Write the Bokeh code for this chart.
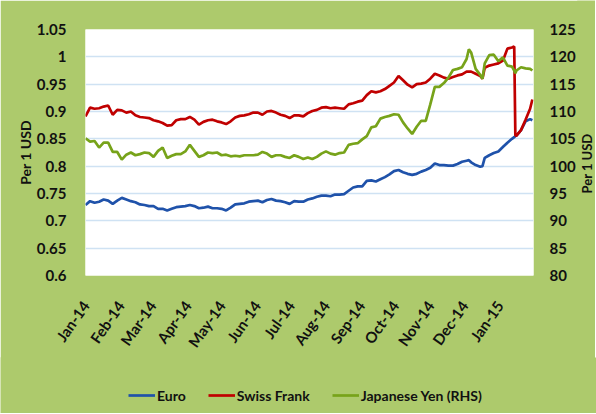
import math
import pandas as pd
from bokeh.plotting import figure
from bokeh.layouts import column, row
from bokeh.models import (Range1d, LinearAxis, FixedTicker, MonthsTicker, DatetimeTickFormatter,
                          CustomJSTickFormatter, Legend, LegendItem, Label)
from bokeh.embed import file_html
from bokeh.resources import INLINE

dates = [
    "2014-01-01", "2014-01-05", "2014-01-09", "2014-01-13", "2014-01-17", "2014-01-21", "2014-01-25", "2014-01-29",
    "2014-02-02", "2014-02-06", "2014-02-10", "2014-02-14", "2014-02-18", "2014-02-22", "2014-02-26",
    "2014-03-02", "2014-03-06", "2014-03-10", "2014-03-14", "2014-03-18", "2014-03-22", "2014-03-26", "2014-03-30",
    "2014-04-03", "2014-04-07", "2014-04-11", "2014-04-15", "2014-04-19", "2014-04-23", "2014-04-27",
    "2014-05-01", "2014-05-05", "2014-05-09", "2014-05-13", "2014-05-17", "2014-05-21", "2014-05-25", "2014-05-29",
    "2014-06-02", "2014-06-06", "2014-06-10", "2014-06-14", "2014-06-18", "2014-06-22", "2014-06-26", "2014-06-30",
    "2014-07-04", "2014-07-08", "2014-07-12", "2014-07-16", "2014-07-20", "2014-07-24", "2014-07-28",
    "2014-08-01", "2014-08-05", "2014-08-09", "2014-08-13", "2014-08-17", "2014-08-21", "2014-08-25", "2014-08-29",
    "2014-09-02", "2014-09-06", "2014-09-10", "2014-09-14", "2014-09-18", "2014-09-22", "2014-09-26", "2014-09-30",
    "2014-10-04", "2014-10-08", "2014-10-12", "2014-10-16", "2014-10-20", "2014-10-24", "2014-10-28",
    "2014-11-01", "2014-11-05", "2014-11-09", "2014-11-13", "2014-11-17", "2014-11-21", "2014-11-25", "2014-11-29",
    "2014-12-03", "2014-12-05", "2014-12-07", "2014-12-11", "2014-12-15", "2014-12-17", "2014-12-19", "2014-12-23",
    "2014-12-27", "2014-12-31",
    "2015-01-04", "2015-01-08", "2015-01-12", "2015-01-14", "2015-01-15", "2015-01-16", "2015-01-20", "2015-01-24",
    "2015-01-28", "2015-01-30",
]

euro = [
    0.729, 0.736, 0.733, 0.735, 0.739, 0.737, 0.731, 0.737,
    0.742, 0.739, 0.736, 0.734, 0.730, 0.729, 0.727,
    0.727, 0.722, 0.722, 0.719, 0.722, 0.725, 0.726, 0.727,
    0.729, 0.727, 0.723, 0.724, 0.726, 0.723, 0.723,
    0.722, 0.719, 0.724, 0.730, 0.731, 0.732, 0.735, 0.736,
    0.737, 0.734, 0.738, 0.740, 0.737, 0.736, 0.734, 0.731,
    0.736, 0.735, 0.735, 0.739, 0.741, 0.744, 0.746,
    0.746, 0.745, 0.748, 0.748, 0.749, 0.755, 0.761, 0.763,
    0.763, 0.773, 0.774, 0.772, 0.776, 0.780, 0.785, 0.791,
    0.793, 0.789, 0.786, 0.784, 0.786, 0.790, 0.793,
    0.797, 0.805, 0.802, 0.802, 0.801, 0.801, 0.804, 0.808,
    0.810, 0.811, 0.807, 0.802, 0.799, 0.800, 0.815, 0.820,
    0.824, 0.827,
    0.835, 0.843, 0.850, 0.853, 0.855, 0.856, 0.866, 0.882,
    0.886, 0.884,
]

swiss = [
    0.891, 0.907, 0.905, 0.906, 0.909, 0.911, 0.894, 0.903,
    0.902, 0.898, 0.900, 0.893, 0.890, 0.889, 0.888,
    0.884, 0.882, 0.879, 0.874, 0.875, 0.884, 0.886, 0.886,
    0.890, 0.885, 0.876, 0.881, 0.884, 0.885, 0.882,
    0.880, 0.877, 0.882, 0.889, 0.892, 0.893, 0.895, 0.898,
    0.898, 0.894, 0.900, 0.901, 0.898, 0.894, 0.892, 0.888,
    0.893, 0.893, 0.891, 0.897, 0.901, 0.903, 0.907,
    0.908, 0.906, 0.907, 0.906, 0.905, 0.913, 0.915, 0.918,
    0.920, 0.930, 0.937, 0.935, 0.937, 0.941, 0.947, 0.953,
    0.965, 0.957, 0.949, 0.944, 0.950, 0.951, 0.953,
    0.960, 0.969, 0.966, 0.962, 0.960, 0.963, 0.966, 0.968,
    0.973, 0.973, 0.973, 0.969, 0.965, 0.960, 0.980, 0.984,
    0.986, 0.988,
    0.993, 1.015, 1.017, 1.019, 0.856, 0.856, 0.866, 0.885,
    0.905, 0.922,
]

yen = [
    105.1, 104.5, 104.6, 103.4, 104.3, 104.3, 102.6, 102.6,
    101.2, 102.1, 102.5, 102.0, 102.2, 102.5, 102.4,
    101.7, 102.8, 103.4, 101.5, 101.9, 102.2, 102.2, 102.7,
    103.9, 102.8, 101.7, 102.0, 102.5, 102.4, 102.5,
    102.0, 102.1, 101.8, 101.9, 101.8, 102.0, 102.0, 102.0,
    102.1, 102.6, 102.3, 101.7, 102.0, 102.0, 101.7, 101.5,
    102.0, 101.7, 101.3, 101.6, 101.3, 101.7, 102.3,
    102.7, 102.3, 102.1, 102.4, 102.5, 103.9, 104.1, 104.2,
    104.9, 105.5, 107.1, 107.3, 108.7, 109.0, 109.2, 109.5,
    109.4, 108.0, 106.9, 105.9, 107.2, 108.3, 108.3,
    111.3, 114.5, 114.5, 115.2, 116.2, 117.6, 117.8, 118.1,
    119.6, 121.4, 120.8, 117.8, 116.7, 116.0, 118.8, 120.3,
    120.4, 119.2,
    119.9, 118.4, 118.2, 117.5, 117.0, 117.5, 118.1, 117.9,
    117.8, 117.5,
]

left_ticks = [0.6, 0.65, 0.7, 0.75, 0.8, 0.85, 0.9, 0.95, 1.0, 1.05]
right_ticks = [80, 85, 90, 95, 100, 105, 110, 115, 120, 125]
series_names = ["Euro", "Swiss Frank", "Japanese Yen (RHS)"]
series_colors = ["#1F52AA", "#C00000", "#77A31A"]
axis_title = "Per 1 USD"

BG = "#ADCA6C"
GRID = "#CFE2F3"
FONT = "Lato"
TXT = "#111111"
LW = 2.7


def strip(fig):
    if hasattr(fig, "frame_align"):
        fig.frame_align = False
    fig.border_fill_color = BG
    fig.background_fill_color = BG
    fig.outline_line_color = None
    fig.xgrid.visible = False
    fig.ygrid.visible = False


x = pd.to_datetime(dates)

p = figure(width=578, height=358, x_axis_type="datetime",
           x_range=Range1d(pd.Timestamp("2014-01-01"), pd.Timestamp("2015-01-31")),
           y_range=Range1d(0.6, 1.05),
           output_backend="svg", toolbar_location=None,
           min_border_left=85, min_border_right=39, min_border_top=29, min_border_bottom=75)
if hasattr(p, "frame_align"):
    p.frame_align = False
p.border_fill_color = BG
p.background_fill_color = "white"
p.outline_line_color = None
p.extra_y_ranges = {"yen": Range1d(80, 125)}

p.line(x, euro, color=series_colors[0], line_width=LW)
p.line(x, swiss, color=series_colors[1], line_width=LW)
p.line(x, yen, color=series_colors[2], line_width=LW, y_range_name="yen")

# axes
xa = p.xaxis[0]
xa.ticker = MonthsTicker(months=list(range(12)))
xa.formatter = DatetimeTickFormatter(months="%b-%y", days="%b-%y")
xa.major_label_orientation = 0.96

ya = p.yaxis[0]
ya.ticker = FixedTicker(ticks=left_ticks)
ya.formatter = CustomJSTickFormatter(code="return String(Number(tick.toFixed(2)));")
ya.axis_label = axis_title

ra = LinearAxis(y_range_name="yen", ticker=FixedTicker(ticks=right_ticks))
p.add_layout(ra, "right")

for ax in [xa, ya, ra]:
    ax.axis_line_color = None
    ax.major_tick_line_color = None
    ax.minor_tick_line_color = None
    ax.major_label_text_font = FONT
    ax.major_label_text_font_style = "bold"
    ax.major_label_text_font_size = "15px"
    ax.major_label_text_color = TXT
    ax.axis_label_text_font = FONT
    ax.axis_label_text_font_style = "bold"
    ax.axis_label_text_font_size = "14px"
    ax.axis_label_text_color = TXT
xa.major_label_standoff = 21
ya.major_label_standoff = 13
ra.major_label_standoff = 10
ya.axis_label_standoff = 0

p.xgrid.grid_line_color = None
p.ygrid.ticker = FixedTicker(ticks=left_ticks)
p.ygrid.grid_line_color = GRID
p.ygrid.grid_line_width = 1.5

# right-hand axis title strip (reads bottom to top, as in the original)
rf = figure(width=18, height=358, x_range=Range1d(0, 1), y_range=Range1d(0, 1),
            x_axis_type=None, y_axis_type=None, output_backend="svg", toolbar_location=None,
            min_border=0)
strip(rf)
rf.margin = (0, 0, 0, -1)
rf.add_layout(Label(x=9, y=195, x_units="screen", y_units="screen", text=axis_title, angle=math.pi / 2,
                    text_align="center", text_baseline="middle", text_font=FONT, text_font_style="bold",
                    text_font_size="13px", text_color=TXT))

# legend strip below the chart; its proxy lines lie outside the visible range
lg = figure(width=596, height=56, x_range=Range1d(0, 1), y_range=Range1d(0, 1),
            x_axis_type=None, y_axis_type=None, output_backend="svg", toolbar_location=None,
            min_border=0)
strip(lg)
lg.margin = (-1, 0, 0, 0)
items = []
for name, col in zip(series_names, series_colors):
    r = lg.line([-3, -2], [-3, -2], color=col, line_width=LW)
    items.append(LegendItem(label=name, renderers=[r]))
legend = Legend(items=items, orientation="horizontal", location=(128, 9),
                background_fill_alpha=0, border_line_color=None,
                label_text_font=FONT, label_text_font_style="bold", label_text_font_size="14px",
                label_text_color=TXT, glyph_width=27, glyph_height=18, label_standoff=2,
                spacing=22, padding=0, margin=0)
lg.add_layout(legend, "center")

layout = column(row(p, rf, spacing=0), lg, spacing=0)
open("out.html", "w").write(file_html(layout, INLINE))
